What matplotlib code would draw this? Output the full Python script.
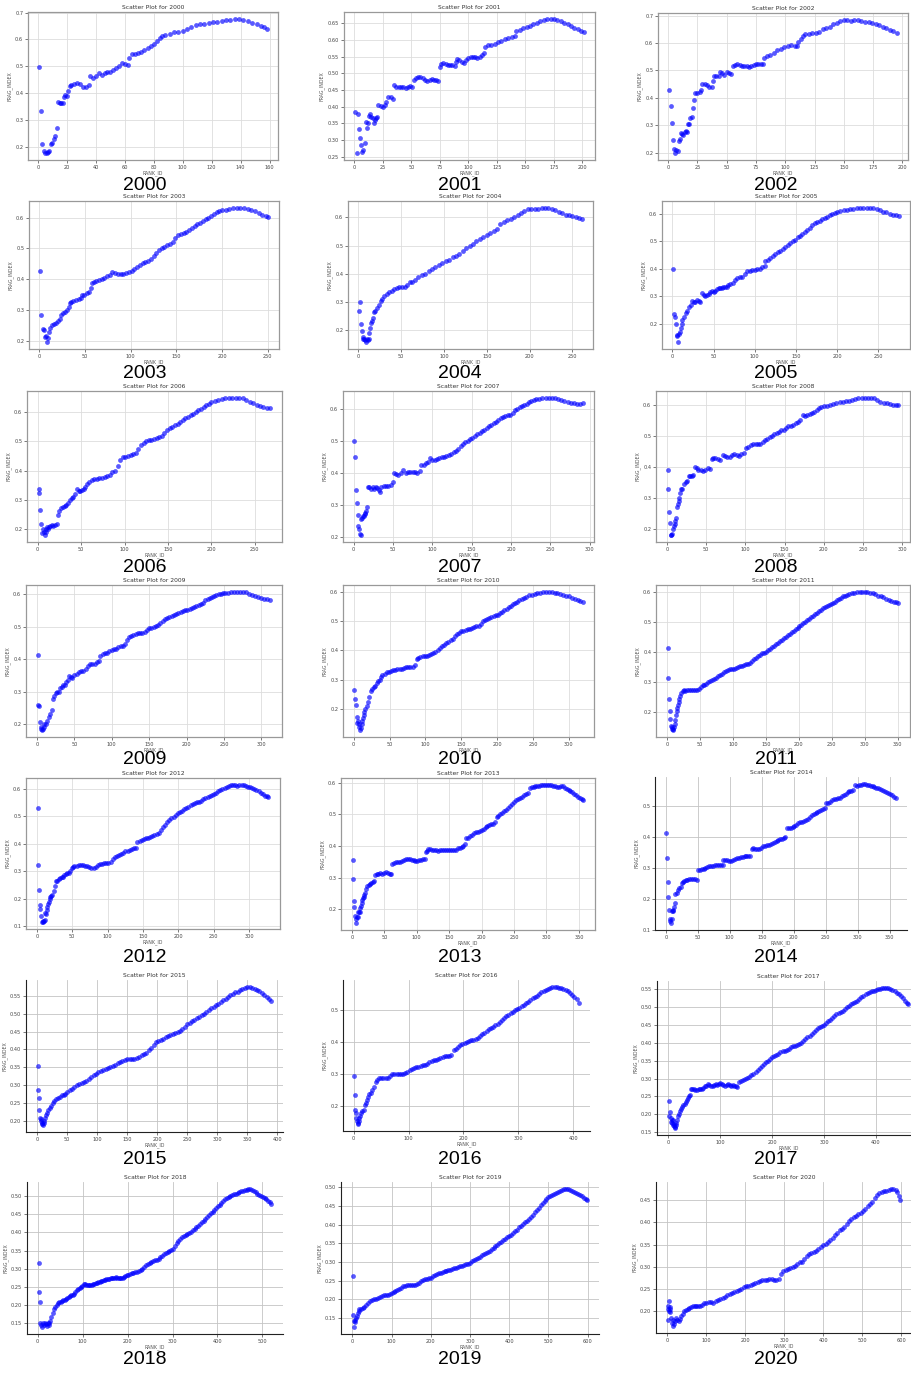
import matplotlib
matplotlib.use("Agg")
import matplotlib.pyplot as plt
from matplotlib.ticker import MultipleLocator

years = list(range(2000, 2021))

# (RANK_ID, FRAG_INDEX)
pts_2000 = [(1, .499), (2, .333), (3, .212), (4, .185), (5, .18), (6, .178), (7, .183), (8, .188), (9, .212),
            (10, .215), (11, .232), (12, .242), (13, .272), (14, .37), (15, .366), (16, .365), (17, .365),
            (18, .388), (19, .395), (20, .39), (21, .41), (22, .428), (23, .43), (25, .435), (27, .437),
            (29, .435), (31, .422), (33, .425), (35, .43), (36, .465), (38, .458), (40, .465), (42, .475),
            (44, .47), (46, .475), (48, .48), (50, .48), (52, .485), (54, .493), (56, .502), (58, .513),
            (60, .51), (62, .505), (63, .533), (65, .545), (67, .548), (69, .55), (71, .555), (73, .56),
            (76, .568), (78, .575), (80, .585), (82, .595), (84, .605), (86, .612), (88, .618), (91, .622),
            (94, .626), (97, .628), (100, .63), (103, .638), (106, .648), (109, .653), (112, .656), (115, .659),
            (118, .662), (121, .664), (124, .666), (127, .669), (130, .672), (133, .674), (136, .675),
            (139, .677), (142, .673), (145, .668), (148, .663), (151, .657), (154, .65), (156, .645), (158, .64)]

pts_2001 = [(1, .383), (2, .26), (3, .378), (4, .334), (5, .305), (6, .285), (7, .265), (8, .27), (9, .29),
            (10, .355), (11, .335), (12, .35), (13, .372), (14, .378), (15, .37), (16, .365), (17, .352),
            (18, .36), (19, .365), (20, .37), (21, .406), (23, .403), (25, .40), (27, .405), (28, .413),
            (30, .43), (32, .428), (34, .422), (35, .465), (37, .46), (39, .46), (41, .46), (43, .458),
            (45, .457), (47, .46), (49, .462), (51, .46), (52, .48), (54, .485), (56, .488), (58, .488),
            (60, .485), (62, .48), (64, .478), (66, .48), (68, .482), (70, .48), (72, .48), (73, .478),
            (75, .52), (76, .528), (78, .53), (80, .528), (82, .525), (84, .525), (86, .525), (88, .522),
            (89, .535), (90, .543), (92, .54), (94, .535), (96, .532), (98, .54), (100, .545), (102, .548),
            (104, .55), (106, .548), (108, .546), (110, .548), (112, .555), (114, .562), (115, .58), (117, .584),
            (120, .585), (123, .588), (126, .593), (129, .598), (132, .603), (135, .606), (138, .609),
            (141, .612), (142, .628), (145, .63), (148, .635), (151, .64), (154, .643), (157, .647), (160, .652),
            (163, .657), (166, .66), (169, .662), (172, .663), (175, .664), (178, .66), (181, .656), (184, .652),
            (187, .648), (190, .642), (193, .637), (196, .632), (199, .627), (201, .624)]

pts_2002 = [(1, .43), (2, .37), (3, .31), (4, .245), (5, .212), (6, .198), (7, .21), (8, .205), (9, .242),
            (10, .25), (11, .272), (12, .27), (13, .265), (14, .275), (15, .278), (16, .275), (17, .304),
            (18, .305), (19, .325), (20, .33), (21, .362), (22, .392), (23, .416), (25, .418), (27, .42),
            (28, .428), (29, .45), (31, .45), (33, .448), (35, .44), (37, .438), (38, .461), (39, .48),
            (41, .48), (43, .478), (44, .495), (46, .49), (48, .485), (50, .495), (52, .49), (54, .488),
            (55, .515), (57, .52), (59, .522), (61, .52), (63, .518), (65, .518), (67, .515), (69, .512),
            (71, .515), (73, .52), (75, .522), (77, .525), (79, .525), (81, .522), (82, .545), (84, .552),
            (87, .558), (90, .565), (93, .575), (96, .578), (99, .585), (102, .588), (105, .592), (108, .59),
            (110, .59), (111, .605), (113, .615), (115, .625), (117, .632), (120, .632), (123, .635),
            (126, .638), (129, .64), (132, .65), (135, .656), (138, .66), (141, .668), (144, .674), (147, .68),
            (150, .685), (153, .684), (156, .682), (159, .683), (162, .684), (165, .682), (168, .678),
            (171, .675), (174, .672), (177, .67), (180, .665), (183, .66), (186, .655), (189, .648),
            (192, .642), (195, .636)]

pts_2003 = [(1, .428), (2, .284), (4, .238), (5, .235), (6, .212), (7, .214), (8, .195), (9, .21), (10, .227),
            (12, .24), (14, .25), (16, .255), (18, .258), (20, .263), (22, .27), (24, .285), (26, .29),
            (28, .293), (30, .3), (32, .31), (33, .322), (35, .327), (37, .33), (40, .332), (43, .335),
            (45, .34), (47, .35), (49, .35), (52, .355), (54, .358), (56, .37), (58, .387), (60, .39),
            (62, .395), (65, .398), (68, .4), (71, .405), (74, .41), (77, .415), (80, .422), (83, .42),
            (86, .418), (89, .418), (92, .418), (95, .42), (98, .422), (101, .427), (104, .432), (107, .44),
            (110, .447), (113, .452), (116, .455), (119, .46), (122, .465), (125, .475), (128, .485),
            (131, .495), (134, .502), (137, .505), (140, .51), (143, .515), (146, .52), (149, .535),
            (152, .542), (155, .548), (158, .55), (161, .552), (164, .56), (167, .565), (170, .572),
            (173, .578), (176, .582), (179, .588), (182, .595), (185, .6), (188, .605), (191, .612),
            (194, .617), (197, .62), (200, .623), (204, .626), (208, .628), (212, .63), (216, .631),
            (220, .632), (224, .631), (228, .628), (232, .625), (236, .62), (240, .615), (244, .61),
            (248, .605), (250, .603)]

pts_2004 = [(1, .268), (2, .30), (3, .224), (4, .198), (5, .175), (6, .17), (7, .168), (8, .165), (9, .158),
            (10, .17), (11, .165), (12, .17), (13, .19), (14, .21), (15, .225), (16, .235), (17, .245),
            (18, .265), (20, .27), (22, .28), (24, .29), (26, .305), (28, .312), (30, .32), (33, .33),
            (36, .335), (39, .34), (42, .347), (45, .35), (48, .352), (51, .352), (54, .355), (57, .36),
            (60, .37), (63, .372), (66, .378), (70, .388), (74, .395), (78, .4), (82, .41), (86, .418),
            (90, .425), (94, .432), (98, .438), (102, .445), (106, .45), (110, .458), (114, .462), (118, .47),
            (122, .48), (126, .49), (130, .498), (134, .505), (138, .515), (142, .522), (146, .53), (150, .538),
            (154, .545), (158, .552), (162, .56), (166, .575), (170, .585), (174, .59), (178, .595),
            (182, .602), (186, .608), (190, .615), (194, .622), (198, .628), (202, .63), (206, .628),
            (210, .63), (214, .632), (218, .634), (222, .632), (226, .628), (230, .625), (234, .62),
            (238, .615), (242, .61), (246, .607), (250, .603), (254, .6), (258, .597), (261, .595)]

pts_2005 = [(1, .40), (2, .236), (3, .224), (4, .2), (5, .16), (6, .155), (7, .133), (8, .162), (9, .17),
            (10, .185), (11, .2), (12, .215), (14, .225), (16, .24), (18, .248), (20, .26), (22, .268),
            (24, .283), (26, .278), (28, .28), (30, .285), (32, .282), (34, .278), (36, .312), (38, .305),
            (40, .302), (42, .305), (44, .31), (46, .315), (48, .318), (50, .315), (52, .32), (54, .328),
            (56, .33), (58, .332), (60, .33), (62, .335), (64, .333), (66, .335), (68, .34), (70, .345),
            (73, .35), (76, .36), (79, .365), (82, .37), (85, .37), (88, .38), (91, .392), (94, .392),
            (97, .395), (100, .395), (103, .4), (106, .40), (109, .405), (112, .41), (113, .43), (116, .432),
            (119, .44), (122, .448), (125, .455), (128, .46), (131, .465), (134, .472), (137, .478),
            (140, .485), (143, .492), (146, .5), (149, .506), (152, .515), (155, .52), (158, .528),
            (161, .535), (164, .542), (167, .55), (170, .558), (173, .565), (176, .57), (179, .575),
            (182, .58), (185, .585), (188, .59), (191, .595), (194, .6), (197, .602), (200, .605), (204, .61),
            (208, .612), (212, .615), (216, .617), (220, .618), (224, .62), (228, .62), (232, .62),
            (236, .621), (240, .622), (244, .62), (248, .616), (252, .612), (256, .608), (260, .605),
            (264, .6), (268, .596), (272, .594), (275, .593)]

pts_2006 = [(1, .335), (2, .322), (3, .265), (4, .216), (5, .185), (6, .2), (7, .19), (8, .178), (9, .19),
            (10, .198), (11, .205), (12, .2), (13, .207), (14, .21), (16, .212), (18, .21), (20, .212),
            (22, .215), (23, .248), (25, .26), (27, .27), (29, .275), (31, .278), (33, .282), (35, .29),
            (37, .298), (39, .305), (41, .31), (43, .32), (45, .335), (47, .33), (49, .33), (51, .332),
            (53, .338), (55, .345), (57, .355), (59, .36), (62, .368), (65, .37), (68, .372), (71, .374),
            (74, .375), (77, .377), (80, .38), (83, .385), (86, .395), (89, .40), (92, .415), (95, .435),
            (98, .445), (101, .448), (104, .45), (107, .455), (110, .457), (113, .46), (116, .475), (119, .489),
            (122, .495), (125, .5), (128, .505), (131, .505), (134, .51), (137, .512), (140, .515), (143, .52),
            (146, .53), (149, .54), (152, .546), (155, .55), (158, .555), (161, .56), (164, .568), (167, .575),
            (170, .58), (173, .585), (176, .59), (179, .595), (182, .602), (185, .607), (188, .613),
            (191, .618), (194, .625), (197, .63), (200, .635), (204, .64), (208, .643), (212, .646),
            (216, .648), (220, .65), (224, .65), (228, .65), (232, .65), (236, .648), (240, .643),
            (244, .637), (248, .632), (252, .627), (256, .622), (260, .618), (264, .615), (268, .614)]

pts_2007 = [(1, .50), (2, .45), (3, .346), (4, .306), (5, .267), (6, .235), (7, .225), (8, .207), (9, .205),
            (10, .254), (11, .26), (12, .265), (13, .265), (14, .27), (15, .275), (16, .28), (17, .294),
            (18, .356), (20, .355), (22, .35), (24, .355), (26, .35), (28, .355), (30, .352), (32, .345),
            (33, .34), (35, .355), (38, .358), (41, .36), (44, .36), (47, .362), (50, .37), (51, .398),
            (54, .395), (57, .393), (60, .398), (63, .408), (66, .40), (69, .402), (72, .402), (75, .403),
            (78, .402), (81, .40), (84, .405), (86, .425), (89, .425), (92, .43), (95, .435), (97, .445),
            (100, .44), (103, .44), (106, .442), (109, .445), (112, .448), (115, .45), (118, .452), (121, .455),
            (124, .46), (127, .465), (130, .468), (133, .473), (136, .485), (139, .49), (142, .495), (145, .5),
            (148, .505), (151, .51), (154, .515), (157, .52), (160, .525), (163, .53), (166, .535), (169, .54),
            (172, .545), (175, .55), (178, .555), (181, .56), (184, .565), (187, .57), (190, .575),
            (193, .578), (196, .58), (199, .582), (202, .588), (205, .595), (208, .6), (211, .604),
            (214, .608), (217, .611), (220, .615), (223, .62), (226, .624), (229, .627), (232, .63),
            (236, .632), (240, .633), (244, .634), (248, .634), (252, .634), (256, .633), (260, .63),
            (264, .627), (268, .623), (272, .62), (276, .618), (280, .617), (284, .616), (288, .616),
            (291, .617)]

pts_2008 = [(1, .39), (2, .327), (3, .256), (4, .218), (5, .18), (6, .18), (7, .185), (8, .2), (9, .21),
            (10, .215), (11, .225), (12, .234), (13, .272), (14, .28), (15, .29), (16, .3), (17, .315),
            (18, .327), (20, .33), (22, .345), (24, .35), (26, .355), (28, .37), (30, .372), (32, .37),
            (34, .375), (36, .40), (38, .395), (40, .39), (43, .39), (46, .385), (49, .39), (52, .395),
            (55, .393), (57, .424), (59, .427), (62, .428), (65, .425), (68, .422), (71, .437), (74, .435),
            (77, .432), (80, .43), (83, .438), (86, .44), (89, .438), (92, .435), (95, .442), (98, .445),
            (101, .459), (104, .465), (107, .47), (110, .475), (113, .473), (116, .472), (119, .475),
            (122, .48), (125, .485), (128, .49), (131, .495), (134, .5), (137, .505), (140, .51), (143, .512),
            (146, .518), (149, .52), (152, .525), (155, .53), (158, .532), (161, .535), (164, .54), (167, .545),
            (170, .552), (173, .567), (176, .565), (179, .568), (182, .57), (185, .573), (188, .577),
            (191, .582), (194, .588), (197, .592), (200, .595), (204, .595), (208, .598), (212, .603),
            (216, .607), (220, .61), (224, .61), (228, .612), (232, .613), (236, .615), (240, .618),
            (244, .62), (248, .62), (252, .62), (256, .622), (260, .622), (264, .62), (268, .615), (272, .61),
            (276, .607), (280, .605), (284, .602), (288, .6), (292, .6), (295, .6)]

pts_2009 = [(1, .413), (2, .258), (3, .255), (4, .207), (5, .19), (6, .185), (7, .181), (8, .185), (9, .19),
            (10, .2), (12, .2), (14, .21), (16, .222), (18, .232), (20, .243), (21, .277), (23, .285),
            (25, .295), (27, .30), (29, .298), (31, .31), (33, .315), (35, .32), (37, .32), (39, .33),
            (41, .335), (43, .348), (45, .345), (47, .343), (50, .35), (53, .355), (56, .36), (59, .365),
            (62, .365), (65, .37), (68, .38), (71, .385), (74, .385), (77, .385), (80, .39), (83, .395),
            (85, .41), (88, .415), (91, .418), (94, .42), (97, .425), (100, .428), (103, .432), (106, .432),
            (109, .438), (112, .44), (115, .442), (118, .448), (120, .46), (123, .468), (126, .472),
            (129, .475), (132, .478), (135, .48), (138, .48), (141, .482), (144, .485), (147, .49), (150, .495),
            (153, .498), (156, .5), (159, .503), (162, .506), (165, .512), (168, .518), (171, .524),
            (174, .528), (177, .532), (180, .535), (183, .538), (186, .541), (189, .544), (192, .547),
            (195, .549), (198, .551), (201, .553), (204, .556), (207, .559), (210, .562), (213, .565),
            (216, .567), (219, .57), (222, .575), (225, .582), (228, .587), (231, .589), (234, .592),
            (237, .594), (240, .597), (243, .6), (246, .602), (249, .604), (252, .605), (256, .606),
            (260, .607), (264, .607), (268, .607), (272, .607), (276, .608), (280, .608), (284, .603),
            (288, .598), (292, .595), (296, .592), (300, .59), (304, .587), (308, .585), (312, .583)]

pts_2010 = [(1, .265), (2, .234), (3, .214), (4, .174), (5, .151), (6, .16), (7, .15), (8, .14), (9, .128),
            (10, .135), (11, .15), (12, .16), (13, .17), (14, .18), (15, .19), (16, .2), (18, .21), (20, .225),
            (22, .24), (24, .26), (26, .27), (28, .275), (30, .28), (32, .29), (34, .295), (36, .3), (38, .31),
            (40, .315), (43, .32), (46, .325), (49, .328), (52, .33), (55, .332), (58, .333), (61, .335),
            (64, .337), (67, .338), (70, .34), (73, .342), (76, .345), (79, .345), (82, .345), (85, .35),
            (88, .37), (90, .375), (93, .377), (96, .38), (99, .38), (102, .382), (105, .385), (108, .388),
            (111, .39), (114, .395), (117, .40), (120, .41), (123, .415), (126, .42), (129, .425), (132, .43),
            (135, .435), (138, .44), (141, .45), (144, .455), (147, .46), (150, .465), (153, .468), (156, .47),
            (159, .473), (162, .475), (165, .478), (168, .48), (171, .482), (174, .485), (177, .49), (180, .5),
            (183, .505), (186, .508), (189, .51), (192, .515), (195, .518), (198, .52), (201, .522),
            (204, .527), (207, .532), (210, .537), (213, .542), (216, .547), (219, .552), (222, .557),
            (225, .562), (228, .567), (231, .572), (234, .577), (237, .58), (240, .584), (244, .588),
            (248, .591), (252, .593), (256, .595), (260, .597), (264, .598), (268, .6), (272, .598),
            (276, .598), (280, .597), (284, .597), (288, .594), (292, .59), (296, .587), (300, .585),
            (304, .58), (308, .577), (312, .573), (316, .57), (319, .567)]

pts_2011 = [(1, .413), (2, .314), (3, .244), (4, .205), (5, .178), (6, .155), (7, .15), (8, .144), (9, .14),
            (10, .145), (11, .15), (12, .16), (13, .175), (14, .19), (15, .205), (16, .215), (17, .225),
            (18, .235), (19, .245), (20, .255), (22, .262), (24, .27), (26, .272), (28, .27), (30, .275),
            (33, .275), (36, .275), (39, .275), (42, .275), (45, .275), (48, .278), (51, .282), (54, .29),
            (57, .29), (60, .295), (63, .3), (66, .303), (69, .308), (72, .31), (75, .315), (78, .32),
            (81, .322), (84, .328), (87, .332), (90, .338), (93, .34), (96, .343), (99, .345), (102, .345),
            (105, .348), (108, .35), (111, .353), (114, .355), (117, .357), (120, .36), (123, .36), (126, .365),
            (129, .37), (132, .375), (135, .38), (138, .385), (141, .39), (144, .395), (147, .398), (150, .40),
            (153, .405), (156, .41), (159, .415), (162, .42), (165, .425), (168, .43), (171, .435), (174, .44),
            (177, .445), (180, .45), (183, .455), (186, .46), (189, .465), (192, .47), (195, .475), (198, .48),
            (201, .485), (204, .49), (207, .495), (210, .5), (213, .505), (216, .51), (219, .515), (222, .52),
            (225, .525), (228, .53), (231, .535), (234, .54), (237, .545), (240, .55), (243, .554),
            (246, .557), (249, .56), (252, .564), (255, .568), (258, .573), (261, .577), (264, .581),
            (267, .585), (270, .588), (273, .591), (276, .594), (280, .596), (284, .598), (288, .599),
            (292, .6), (296, .6), (300, .6), (304, .599), (308, .597), (312, .595), (316, .592), (320, .588),
            (324, .585), (328, .582), (332, .578), (336, .574), (340, .57), (344, .567), (348, .565),
            (351, .563)]

pts_2012 = [(1, .53), (2, .324), (3, .231), (4, .176), (5, .164), (6, .136), (7, .116), (8, .12), (9, .115),
            (10, .12), (11, .122), (12, .15), (13, .145), (14, .16), (15, .17), (16, .18), (17, .19), (18, .2),
            (19, .205), (20, .21), (22, .215), (24, .23), (25, .245), (27, .263), (29, .265), (31, .27),
            (33, .275), (35, .278), (37, .28), (39, .285), (41, .29), (43, .292), (45, .295), (47, .3),
            (49, .31), (51, .315), (53, .318), (56, .32), (59, .322), (62, .323), (65, .322), (68, .32),
            (71, .318), (74, .315), (77, .312), (80, .31), (83, .315), (86, .322), (89, .325), (92, .328),
            (95, .33), (98, .33), (101, .33), (104, .335), (107, .345), (110, .35), (113, .355), (116, .36),
            (119, .363), (122, .368), (125, .372), (128, .375), (131, .378), (134, .38), (137, .383),
            (140, .383), (142, .407), (145, .41), (148, .415), (151, .418), (154, .42), (157, .422),
            (160, .425), (163, .428), (166, .43), (169, .435), (172, .44), (175, .45), (178, .46), (181, .468),
            (184, .478), (187, .485), (190, .492), (193, .498), (196, .505), (199, .51), (202, .515),
            (205, .52), (208, .525), (211, .53), (214, .535), (217, .54), (220, .544), (223, .547),
            (226, .55), (229, .553), (232, .557), (235, .561), (238, .565), (241, .569), (244, .573),
            (247, .577), (250, .58), (253, .585), (256, .59), (259, .595), (262, .6), (265, .604), (268, .607),
            (271, .61), (274, .612), (277, .613), (280, .612), (283, .61), (286, .612), (289, .614),
            (292, .613), (295, .61), (298, .607), (301, .605), (304, .603), (307, .6), (310, .595),
            (313, .59), (316, .585), (319, .58), (322, .575), (325, .572), (327, .57)]

pts_2013 = [(1, .354), (2, .295), (3, .226), (4, .206), (5, .177), (6, .17), (7, .156), (8, .175), (9, .175),
            (10, .19), (11, .19), (12, .19), (13, .205), (14, .21), (15, .22), (16, .23), (17, .235), (18, .24),
            (19, .245), (20, .25), (22, .265), (24, .272), (26, .275), (28, .28), (30, .282), (32, .285),
            (34, .29), (36, .308), (38, .31), (40, .312), (43, .313), (46, .312), (49, .315), (52, .318),
            (55, .315), (58, .31), (60, .31), (62, .343), (65, .345), (68, .348), (71, .35), (74, .35),
            (77, .352), (80, .355), (83, .358), (86, .358), (89, .358), (92, .355), (95, .355), (98, .353),
            (101, .353), (104, .355), (107, .355), (110, .358), (113, .36), (114, .382), (116, .383),
            (118, .39), (121, .39), (124, .388), (127, .387), (130, .386), (133, .385), (136, .386),
            (139, .387), (142, .388), (145, .388), (148, .388), (151, .388), (154, .387), (157, .387),
            (160, .388), (163, .392), (166, .395), (169, .398), (172, .40), (174, .405), (176, .424),
            (179, .425), (182, .43), (185, .435), (188, .44), (191, .443), (194, .445), (197, .448),
            (200, .45), (203, .455), (206, .46), (209, .462), (212, .465), (215, .468), (218, .47),
            (221, .475), (223, .493), (226, .495), (229, .5), (232, .505), (235, .51), (238, .515),
            (241, .52), (244, .527), (247, .533), (250, .54), (253, .545), (256, .548), (259, .552),
            (262, .555), (265, .56), (268, .565), (271, .568), (274, .582), (277, .585), (280, .587),
            (283, .588), (286, .59), (289, .59), (292, .592), (295, .592), (298, .593), (301, .593),
            (304, .593), (307, .592), (310, .59), (313, .588), (316, .585), (319, .585), (322, .59),
            (325, .588), (328, .583), (331, .58), (334, .577), (337, .573), (340, .57), (343, .565),
            (346, .56), (349, .556), (352, .552), (355, .548), (357, .545)]

pts_2014 = [(1, .412), (2, .334), (3, .254), (4, .207), (5, .163), (6, .135), (7, .128), (8, .122), (9, .135),
            (10, .16), (11, .16), (12, .165), (13, .175), (14, .187), (15, .217), (17, .22), (19, .228),
            (21, .235), (23, .24), (25, .25), (27, .255), (29, .258), (31, .26), (33, .262), (36, .265),
            (39, .265), (42, .265), (45, .265), (48, .262), (50, .295), (53, .295), (56, .296), (59, .298),
            (62, .3), (65, .303), (68, .305), (71, .307), (74, .308), (77, .31), (80, .31), (83, .31),
            (86, .31), (89, .31), (90, .327), (93, .327), (96, .325), (99, .323), (102, .323), (105, .325),
            (108, .328), (111, .332), (114, .333), (117, .335), (120, .337), (123, .338), (126, .338),
            (129, .338), (132, .34), (134, .363), (137, .365), (140, .363), (143, .362), (146, .363),
            (149, .365), (152, .37), (155, .372), (158, .374), (161, .375), (164, .377), (167, .38),
            (170, .383), (173, .387), (176, .39), (179, .393), (182, .395), (185, .398), (187, .40),
            (189, .428), (192, .428), (195, .43), (198, .433), (201, .435), (204, .44), (207, .445),
            (210, .448), (213, .45), (216, .452), (219, .455), (222, .46), (225, .465), (228, .47),
            (231, .475), (234, .478), (237, .48), (240, .483), (243, .487), (246, .49), (249, .493),
            (251, .51), (254, .51), (257, .515), (260, .52), (263, .522), (266, .524), (269, .526),
            (272, .528), (275, .532), (278, .535), (281, .54), (284, .545), (287, .548), (290, .55),
            (293, .553), (296, .568), (299, .567), (302, .568), (305, .57), (308, .572), (311, .572),
            (314, .57), (317, .568), (320, .567), (323, .565), (326, .563), (329, .56), (332, .558),
            (335, .555), (338, .552), (341, .55), (344, .545), (347, .542), (350, .54), (353, .535),
            (356, .53), (359, .527)]

pts_2015 = [(1, .354), (2, .286), (3, .265), (4, .23), (5, .209), (6, .205), (7, .2), (8, .195), (9, .19),
            (10, .188), (11, .195), (12, .2), (13, .207), (15, .215), (17, .222), (19, .23), (21, .236),
            (23, .242), (26, .25), (29, .255), (32, .26), (35, .263), (38, .267), (41, .271), (44, .272),
            (47, .275), (50, .28), (54, .285), (58, .29), (62, .295), (66, .3), (70, .303), (74, .306),
            (78, .309), (82, .312), (86, .318), (90, .322), (94, .327), (98, .332), (102, .336), (106, .34),
            (110, .343), (114, .345), (118, .347), (122, .35), (126, .353), (130, .357), (134, .362),
            (138, .365), (142, .368), (146, .37), (150, .372), (154, .372), (158, .372), (162, .373),
            (166, .376), (170, .38), (174, .383), (178, .386), (182, .39), (186, .397), (190, .405),
            (194, .412), (198, .42), (202, .423), (206, .427), (210, .43), (214, .434), (218, .437),
            (222, .44), (226, .443), (230, .445), (234, .448), (238, .452), (242, .458), (246, .464),
            (250, .47), (254, .475), (258, .479), (262, .483), (266, .488), (270, .492), (274, .496),
            (278, .5), (282, .505), (286, .51), (290, .515), (294, .519), (298, .523), (302, .527),
            (306, .532), (310, .537), (314, .542), (318, .547), (322, .552), (326, .556), (330, .56),
            (334, .562), (338, .565), (342, .568), (346, .572), (350, .575), (354, .575), (358, .573),
            (362, .57), (366, .567), (370, .564), (374, .559), (378, .553), (382, .547), (386, .54),
            (390, .535)]

pts_2016 = [(1, .294), (2, .236), (3, .19), (4, .18), (5, .165), (6, .155), (7, .145), (8, .15), (9, .155),
            (10, .165), (12, .17), (14, .18), (16, .185), (18, .19), (20, .205), (22, .21), (24, .22),
            (26, .23), (28, .24), (31, .243), (34, .25), (37, .262), (40, .275), (43, .283), (46, .288),
            (50, .29), (54, .288), (58, .287), (62, .29), (66, .296), (70, .3), (74, .3), (78, .302),
            (82, .302), (86, .301), (90, .301), (94, .304), (98, .307), (102, .313), (106, .317), (110, .32),
            (114, .322), (118, .324), (122, .326), (126, .328), (130, .33), (134, .333), (138, .338),
            (142, .342), (146, .344), (150, .346), (154, .349), (158, .351), (162, .354), (166, .356),
            (170, .357), (174, .358), (178, .359), (182, .375), (186, .38), (190, .385), (194, .39),
            (198, .394), (202, .398), (206, .402), (210, .405), (214, .406), (218, .408), (222, .41),
            (226, .412), (230, .418), (234, .424), (238, .43), (242, .435), (246, .44), (250, .444),
            (254, .448), (258, .452), (262, .457), (266, .462), (270, .468), (274, .474), (278, .48),
            (282, .485), (286, .49), (290, .495), (294, .499), (298, .503), (302, .507), (306, .512),
            (310, .517), (314, .521), (318, .526), (322, .531), (326, .536), (330, .54), (334, .545),
            (338, .55), (342, .555), (346, .559), (350, .563), (354, .566), (358, .569), (362, .571),
            (366, .572), (370, .572), (374, .57), (378, .568), (382, .565), (386, .562), (390, .558),
            (394, .553), (398, .547), (402, .541), (406, .533), (410, .522)]

pts_2017 = [(1, .238), (2, .195), (3, .206), (4, .19), (5, .178), (6, .183), (7, .175), (8, .185), (9, .17),
            (10, .168), (11, .172), (12, .165), (13, .162), (14, .17), (15, .175), (17, .185), (19, .195),
            (21, .2), (23, .21), (25, .215), (27, .22), (29, .225), (31, .23), (33, .235), (35, .24),
            (37, .245), (39, .25), (41, .255), (43, .272), (46, .27), (49, .27), (52, .268), (55, .268),
            (58, .27), (61, .27), (64, .272), (67, .275), (70, .278), (73, .28), (76, .285), (79, .282),
            (82, .278), (85, .28), (88, .283), (91, .285), (94, .282), (97, .285), (100, .288), (103, .285),
            (106, .282), (109, .28), (112, .282), (115, .285), (118, .283), (121, .28), (124, .282),
            (127, .28), (130, .278), (133, .277), (136, .29), (140, .293), (144, .295), (148, .298),
            (152, .302), (156, .305), (160, .31), (164, .313), (168, .318), (172, .325), (176, .33),
            (180, .335), (184, .34), (188, .345), (192, .35), (196, .355), (200, .36), (204, .363),
            (208, .367), (212, .37), (216, .373), (220, .376), (224, .378), (228, .381), (232, .384),
            (236, .387), (240, .39), (244, .392), (248, .394), (252, .397), (256, .40), (260, .405),
            (264, .41), (268, .415), (272, .42), (276, .425), (280, .43), (284, .435), (288, .44),
            (292, .443), (296, .446), (300, .45), (304, .455), (308, .46), (312, .465), (316, .47),
            (320, .475), (324, .48), (328, .484), (332, .487), (336, .49), (340, .495), (344, .5),
            (348, .503), (352, .507), (356, .51), (360, .513), (364, .518), (368, .523), (372, .527),
            (376, .531), (380, .535), (384, .54), (388, .543), (392, .545), (396, .546), (400, .547),
            (404, .549), (408, .551), (412, .553), (416, .553), (420, .553), (424, .552), (428, .55),
            (432, .548), (436, .545), (440, .54), (444, .536), (448, .53), (452, .525), (456, .518),
            (460, .51), (462, .507)]

pts_2018 = [(2, .315), (3, .237), (5, .209), (6, .152), (8, .145), (10, .14), (12, .15), (14, .145), (16, .152),
            (18, .148), (20, .142), (22, .15), (24, .145), (26, .152), (28, .158), (30, .168), (33, .178),
            (36, .19), (39, .195), (42, .2), (45, .205), (48, .208), (51, .21), (54, .212), (57, .213),
            (60, .215), (63, .218), (66, .22), (69, .222), (72, .225), (75, .227), (78, .228), (81, .232),
            (84, .237), (87, .242), (90, .245), (93, .247), (96, .25), (99, .253), (102, .257), (105, .258),
            (108, .256), (111, .255), (114, .255), (117, .255), (120, .256), (123, .257), (126, .258),
            (129, .26), (132, .262), (135, .263), (138, .265), (141, .266), (144, .267), (147, .268),
            (150, .27), (153, .271), (156, .272), (159, .273), (162, .274), (165, .275), (168, .276),
            (171, .276), (174, .277), (177, .276), (180, .275), (183, .274), (186, .274), (189, .275),
            (192, .277), (195, .279), (198, .282), (201, .284), (205, .286), (209, .288), (213, .289),
            (217, .29), (221, .291), (225, .293), (229, .296), (233, .3), (237, .305), (241, .31),
            (245, .314), (249, .317), (253, .319), (257, .321), (261, .323), (265, .325), (269, .328),
            (273, .332), (277, .336), (281, .34), (285, .343), (289, .346), (293, .349), (297, .352),
            (301, .355), (305, .362), (309, .37), (313, .377), (317, .382), (321, .386), (325, .39),
            (329, .393), (333, .395), (337, .398), (341, .402), (345, .406), (349, .41), (353, .414),
            (357, .418), (361, .422), (365, .427), (369, .432), (373, .437), (377, .442), (381, .447),
            (385, .452), (389, .457), (393, .462), (397, .467), (401, .471), (405, .476), (409, .481),
            (413, .486), (417, .491), (421, .495), (425, .498), (429, .5), (433, .502), (437, .504),
            (441, .506), (445, .508), (449, .51), (453, .512), (457, .514), (461, .515), (465, .517),
            (469, .519), (473, .518), (477, .515), (481, .512), (485, .51), (489, .506), (493, .503),
            (497, .5), (501, .497), (505, .494), (509, .49), (513, .486), (517, .482), (520, .478)]

pts_2019 = [(1, .263), (2, .159), (3, .143), (4, .126), (6, .14), (8, .145), (10, .15), (12, .155), (14, .165),
            (16, .17), (18, .175), (22, .175), (26, .178), (30, .18), (35, .185), (40, .19), (45, .195),
            (50, .198), (55, .2), (60, .202), (65, .205), (70, .207), (75, .21), (80, .212), (85, .213),
            (90, .213), (95, .215), (100, .218), (105, .22), (110, .222), (115, .225), (120, .228),
            (125, .232), (130, .235), (135, .237), (140, .238), (145, .24), (150, .24), (155, .24),
            (160, .24), (165, .242), (170, .245), (175, .25), (180, .253), (185, .255), (190, .256),
            (195, .257), (200, .258), (205, .262), (210, .265), (215, .268), (220, .27), (225, .272),
            (230, .274), (235, .276), (240, .277), (245, .278), (250, .279), (255, .281), (260, .283),
            (265, .285), (270, .287), (275, .289), (280, .29), (285, .292), (290, .294), (295, .296),
            (300, .298), (305, .302), (310, .305), (315, .308), (320, .311), (325, .314), (330, .318),
            (335, .321), (340, .324), (345, .327), (350, .331), (355, .335), (360, .339), (365, .342),
            (370, .346), (375, .35), (380, .355), (385, .36), (390, .363), (395, .366), (400, .37),
            (405, .373), (410, .377), (415, .382), (420, .387), (425, .393), (430, .398), (435, .403),
            (440, .407), (445, .41), (450, .415), (455, .42), (460, .425), (465, .433), (470, .44),
            (475, .446), (480, .452), (485, .458), (490, .463), (495, .468), (500, .473), (505, .477),
            (510, .48), (515, .483), (520, .486), (525, .488), (530, .49), (535, .493), (540, .495),
            (545, .496), (550, .495), (555, .493), (560, .491), (565, .488), (570, .485), (575, .482),
            (580, .479), (585, .476), (590, .472), (595, .468), (599, .465)]

pts_2020 = [(1, .212), (2, .181), (3, .205), (4, .2), (5, .223), (6, .21), (7, .198), (8, .205), (10, .185),
            (12, .175), (14, .167), (16, .18), (18, .172), (20, .178), (23, .185), (26, .18), (29, .178),
            (32, .183), (36, .19), (40, .195), (44, .2), (48, .203), (52, .205), (56, .208), (60, .21),
            (65, .212), (70, .213), (75, .213), (80, .212), (85, .213), (90, .215), (95, .218), (100, .22),
            (106, .222), (112, .221), (118, .22), (124, .223), (130, .225), (136, .228), (142, .23),
            (148, .233), (154, .236), (160, .239), (166, .242), (172, .244), (178, .246), (184, .249),
            (190, .251), (196, .254), (202, .256), (208, .258), (214, .26), (220, .262), (226, .264),
            (232, .266), (238, .268), (244, .27), (250, .27), (256, .271), (262, .272), (268, .272),
            (274, .271), (280, .27), (286, .273), (292, .283), (298, .29), (304, .293), (310, .296),
            (316, .298), (322, .3), (328, .303), (334, .307), (340, .31), (346, .312), (352, .318),
            (358, .325), (364, .328), (370, .33), (376, .334), (382, .336), (388, .34), (394, .345),
            (400, .349), (406, .352), (412, .356), (418, .36), (424, .365), (430, .371), (436, .377),
            (442, .382), (448, .386), (454, .39), (460, .396), (466, .402), (472, .407), (478, .411),
            (484, .415), (490, .418), (496, .421), (502, .425), (508, .43), (514, .436), (520, .44),
            (526, .446), (532, .455), (538, .462), (544, .466), (550, .469), (556, .47), (562, .471),
            (568, .473), (574, .475), (580, .475), (586, .472), (590, .468), (594, .46), (598, .45)]

all_pts = [pts_2000, pts_2001, pts_2002, pts_2003, pts_2004, pts_2005, pts_2006,
           pts_2007, pts_2008, pts_2009, pts_2010, pts_2011, pts_2012, pts_2013,
           pts_2014, pts_2015, pts_2016, pts_2017, pts_2018, pts_2019, pts_2020]

# tick spacing per year (x, y)
x_steps = [20, 25, 25, 50, 50, 50, 50, 50, 50, 50, 50, 50, 50, 50, 50, 50, 100, 100, 100, 100, 100]
y_steps = [.1, .05, .1, .1, .1, .1, .1, .1, .1, .1, .1, .1, .1, .1, .1, .05, .1, .05, .05, .05, .05]

W, H = 912, 1374
fig = plt.figure(figsize=(W / 100, H / 100), dpi=100)

# axes boxes in pixels: left, top, right, bottom
boxes = [
    (28, 12, 278, 160), (344, 12, 595, 160), (658, 13, 908, 160),
    (29, 201, 279, 349), (348, 201, 593, 349), (662, 201, 910, 349),
    (27, 391, 282, 542), (343, 391, 594, 542), (656, 391, 910, 542),
    (26, 585, 282, 737), (343, 585, 594, 737), (656, 585, 910, 737),
    (26, 778, 280, 929), (341, 778, 595, 930), (655, 777, 907, 930),
    (26, 980, 283, 1132), (343, 980, 590, 1131), (657, 981, 920, 1135),
    (27, 1182, 283, 1334), (341, 1182, 599, 1334), (656, 1182, 912, 1333),
]
label_y = [186, 374, 567, 760, 958, 1160, 1359]
col_cx = [145, 460, 776]

for i, year in enumerate(years):
    row, col = divmod(i, 3)
    l, t, r, b = boxes[i]
    ax = fig.add_axes([l / W, 1 - b / H, (r - l) / W, (b - t) / H])
    xs = [p[0] for p in all_pts[i]]
    ys = [p[1] for p in all_pts[i]]
    ax.scatter(xs, ys, s=12, color='blue', alpha=0.65, linewidths=0, zorder=3)

    ax.xaxis.set_major_locator(MultipleLocator(x_steps[i]))
    ax.yaxis.set_major_locator(MultipleLocator(y_steps[i]))
    ax.tick_params(labelsize=3.6, length=2, width=0.5, pad=1.5, colors='#444444')

    if year < 2014:
        for sp in ax.spines.values():
            sp.set_color('#999999')
            sp.set_linewidth(0.9)
        ax.grid(True, color='#dddddd', linewidth=0.6)
    else:
        ax.spines['top'].set_visible(False)
        ax.spines['right'].set_visible(False)
        ax.spines['left'].set_color('#222222')
        ax.spines['bottom'].set_color('#222222')
        ax.grid(True, color='#c4c4c4', linewidth=0.6)
    ax.set_axisbelow(True)

    ax.set_title(f'Scatter Plot for {year}', fontsize=4.3, pad=2, color='#333333')
    ax.set_xlabel('RANK_ID', fontsize=3.4, labelpad=0.5, color='#555555')
    ax.set_ylabel('FRAG_INDEX', fontsize=3.4, labelpad=2, color='#555555')

    fig.text(col_cx[col] / W, 1 - label_y[row] / H, str(year), ha='center', va='center',
             fontsize=14, family='Liberation Sans', color='black')

fig.savefig('out.png', dpi=100)
